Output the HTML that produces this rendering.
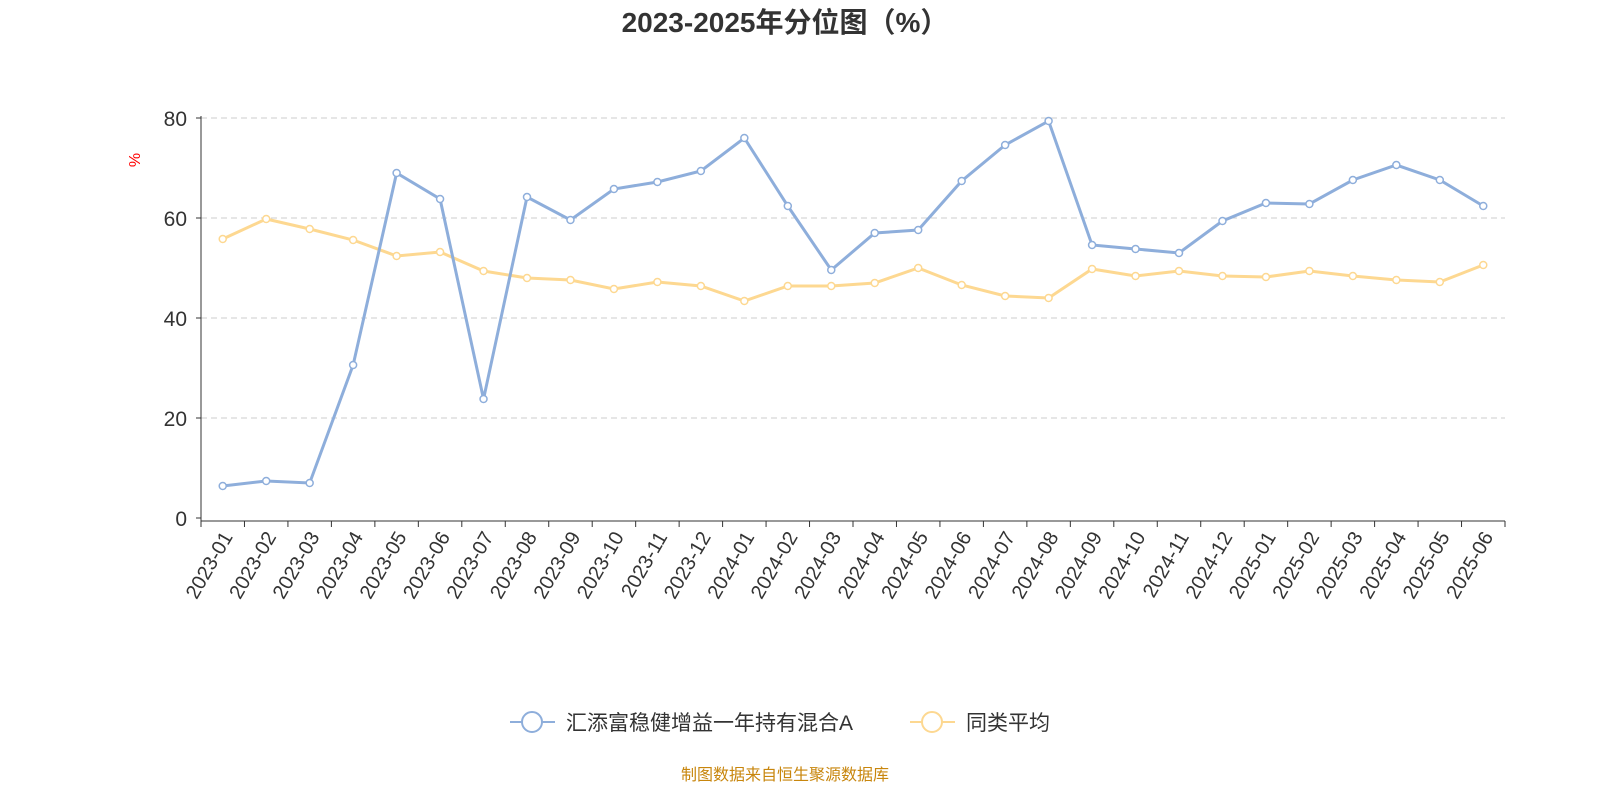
<!DOCTYPE html>
<html><head><meta charset="utf-8">
<style>
body{margin:0;background:#fff;width:1600px;height:800px;overflow:hidden;font-family:"Liberation Sans","Noto Sans CJK SC",sans-serif;}
</style></head>
<body>
<svg id="chart" width="1600" height="800" xmlns="http://www.w3.org/2000/svg" style="font-family:'Liberation Sans','Noto Sans CJK SC',sans-serif">
<text x="785" y="32" text-anchor="middle" font-size="28" font-weight="bold" fill="#333">2023-2025年分位图（%）</text>
<text x="140" y="160" font-size="16" fill="red" transform="rotate(-90 140 160)" text-anchor="middle">%</text>
<g id="grid"></g><g id="axes"></g><g id="series"></g>
<g>
<g>
<line x1="510" y1="722" x2="555" y2="722" stroke="#8eaedb" stroke-width="2"/>
<circle cx="532" cy="722" r="10" fill="#fff" stroke="#8eaedb" stroke-width="2"/>
<text x="566" y="730" font-size="21" fill="#333">汇添富稳健增益一年持有混合A</text></g>
<g>
<line x1="910" y1="722" x2="955" y2="722" stroke="#fdd891" stroke-width="2"/>
<circle cx="932" cy="722" r="10" fill="#fff" stroke="#fdd891" stroke-width="2"/>
<text x="966" y="730" font-size="21" fill="#333">同类平均</text></g>
</g>
<text x="785" y="780" text-anchor="middle" font-size="16" fill="#c8860d">制图数据来自恒生聚源数据库</text>
</svg>
<script>
const categories=["2023-01","2023-02","2023-03","2023-04","2023-05","2023-06","2023-07","2023-08","2023-09","2023-10","2023-11","2023-12","2024-01","2024-02","2024-03","2024-04","2024-05","2024-06","2024-07","2024-08","2024-09","2024-10","2024-11","2024-12","2025-01","2025-02","2025-03","2025-04","2025-05","2025-06"];
const fundValues=[6.4,7.4,7.0,30.6,69,63.8,23.8,64.2,59.6,65.8,67.2,69.4,76,62.4,49.6,57,57.6,67.4,74.6,79.4,54.6,53.8,53,59.4,63,62.8,67.6,70.6,67.6,62.4];
const avgValues=[55.8,59.8,57.8,55.6,52.4,53.2,49.4,48,47.6,45.8,47.2,46.4,43.4,46.4,46.4,47,50,46.6,44.4,44,49.8,48.4,49.4,48.4,48.2,49.4,48.4,47.6,47.2,50.6];
const yTicks=[0,20,40,60,80];
const NS="http://www.w3.org/2000/svg";
const X0=201,X1=1505,Y0=518,Y1=118,YMAX=80;
const band=(X1-X0)/categories.length;
const xPos=i=>X0+band*(i+0.5);
const yPos=v=>Y0-(v/YMAX)*(Y0-Y1);
function mk(tag,attrs,parent){const e=document.createElementNS(NS,tag);for(const k in attrs)e.setAttribute(k,attrs[k]);parent.appendChild(e);return e;}
const grid=document.getElementById('grid'),axes=document.getElementById('axes'),series=document.getElementById('series');
yTicks.forEach(t=>{
  const y=yPos(t);
  if(t>0){const g=mk('line',{x1:X0,x2:X1,y1:y,y2:y,stroke:'#ccc','stroke-dasharray':'6,4'},grid);
  
  }
  const tk=mk('line',{x1:X0-5,x2:X0,y1:y,y2:y,stroke:'#333'},axes);
  
  
  const lb=mk('text',{x:X0-14,y:y+8,'text-anchor':'end','font-size':21,fill:'#333'},axes);
  lb.textContent=t;
  
  
});
const ya=mk('line',{x1:X0,x2:X0,y1:Y1-2,y2:Y0+3,stroke:'#333'},axes);


const xa=mk('line',{x1:X0,x2:X1,y1:Y0+3,y2:Y0+3,stroke:'#333'},axes);


for(let i=0;i<=categories.length;i++){
  const x=X0+band*i;
  const t=mk('line',{x1:x,x2:x,y1:Y0+3,y2:Y0+9,stroke:'#333'},axes);
  
  
}
categories.forEach((c,i)=>{
  const x=xPos(i)+6,y=Y0+16;
  const lb=mk('text',{x:x,y:y,'text-anchor':'end','font-size':20,fill:'#333',transform:`rotate(-60 ${x} ${y})`,'dominant-baseline':'middle'},axes);
  lb.textContent=c;
  
  
});
function drawSeries(vals,color,name){
  const pts=vals.map((v,i)=>xPos(i)+','+yPos(v)).join(' ');
  const pl=mk('polyline',{points:pts,fill:'none',stroke:color,'stroke-width':3},series);
  
  
  vals.forEach((v,i)=>{
    const c=mk('circle',{cx:xPos(i),cy:yPos(v),r:3.5,fill:'#fff',stroke:color,'stroke-width':1.5},series);
    
    
  });
}
drawSeries(avgValues,'#fdd891','average');
drawSeries(fundValues,'#8eaedb','fund');
</script>
</body></html>
